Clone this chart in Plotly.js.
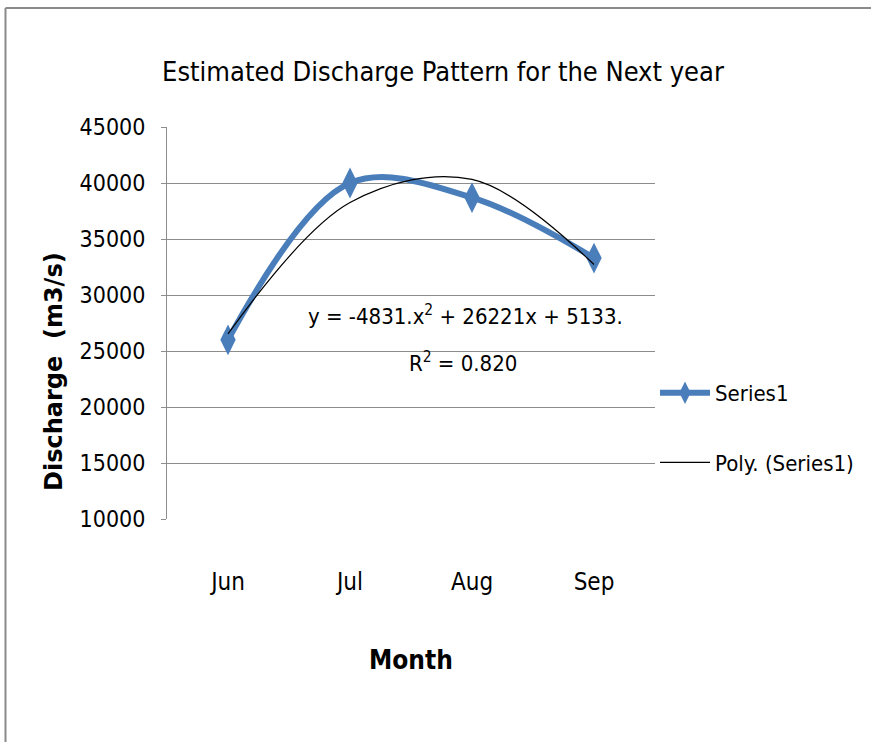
<!DOCTYPE html>
<html>
<head>
<meta charset="utf-8">
<script src="https://cdn.plot.ly/plotly-3.0.1.min.js"></script>
<style>html,body{margin:0;padding:0;background:#fff;}#chart{width:871px;height:742px;}</style>
</head>
<body>
<div id="chart"></div>
<script>
var months = ["Jun", "Jul", "Aug", "Sep"];
var discharge = [26000, 40000, 38700, 33300];
var polyTrend = [26523, 38251, 40317, 32721];
var yTicks = [10000, 15000, 20000, 25000, 30000, 35000, 40000, 45000];

var FONT = "'DejaVu Sans Condensed', 'Liberation Sans Narrow', 'Liberation Sans', sans-serif";

var traces = [
  {
    x: months, y: discharge, name: "Series1", type: "scatter", mode: "lines+markers",
    line: {color: "#4A7EBB", width: 6, shape: "spline", smoothing: 1},
    marker: {symbol: "diamond-tall", size: 22, color: "#4A7EBB"},
    legendgroup: "a"
  },
  {
    x: months, y: polyTrend, name: "Poly. (Series1)", type: "scatter", mode: "lines",
    line: {color: "#000000", width: 1.2, shape: "spline", smoothing: 1},
    legendgroup: "b"
  }
];

var layout = {
  width: 871, height: 742,
  margin: {l: 167, r: 216, t: 127, b: 223, autoexpand: false},
  paper_bgcolor: "#ffffff", plot_bgcolor: "#ffffff",
  font: {family: FONT, color: "#000000"},
  title: {
    text: "Estimated Discharge Pattern for the Next year",
    font: {family: FONT, size: 27, color: "#000000"},
    x: 443/871, xanchor: "center", xref: "container",
    y: 1 - 72/742, yanchor: "middle", yref: "container"
  },
  xaxis: {
    type: "category", categoryorder: "array", categoryarray: months,
    range: [-0.5, 3.5], showgrid: false, zeroline: false,
    showline: false, ticks: "", tickfont: {family: FONT, size: 24, color: "#000"},
    ticklabelstandoff: 46, fixedrange: true
  },
  yaxis: {
    range: [10000, 45000], tickvals: yTicks, ticktext: yTicks.map(String),
    showgrid: true, gridcolor: "#8C8C8C", gridwidth: 1,
    showline: true, linecolor: "#8C8C8C", linewidth: 1,
    ticks: "outside", ticklen: 5, tickcolor: "#8C8C8C",
    zeroline: false, tickfont: {family: FONT, size: 23, color: "#000"},
    ticklabelstandoff: 11, fixedrange: true
  },
  showlegend: true,
  legend: {
    x: 1.0, xanchor: "left", y: (519 - 372)/392, yanchor: "top",
    font: {family: FONT, size: 22, color: "#000"},
    traceorder: "grouped", tracegroupgap: 38, itemwidth: 50,
    bgcolor: "rgba(0,0,0,0)"
  },
  annotations: [
    {text: "y = -4831.x<sup>2</sup> + 26221x + 5133.", xref: "paper", yref: "paper",
     x: (465 - 167)/488, y: (519 - 315)/392, xanchor: "center", yanchor: "middle",
     showarrow: false, font: {family: FONT, size: 22, color: "#000"}},
    {text: "R<sup>2</sup> = 0.820", xref: "paper", yref: "paper",
     x: (463 - 167)/488, y: (519 - 362)/392, xanchor: "center", yanchor: "middle",
     showarrow: false, font: {family: FONT, size: 22, color: "#000"}},
    {text: "<b>Month</b>", xref: "paper", yref: "paper",
     x: (411 - 167)/488, y: (519 - 660)/392, xanchor: "center", yanchor: "middle",
     showarrow: false, font: {family: FONT, size: 26, color: "#000"}},
    {text: "<b>Discharge  (m3/s)</b>", xref: "paper", yref: "paper", textangle: -90,
     x: (54 - 167)/488, y: (519 - 372)/392, xanchor: "center", yanchor: "middle",
     showarrow: false, font: {family: "'DejaVu Sans', Verdana, sans-serif", size: 24, color: "#000"}}
  ],
  shapes: [
    {type: "line", xref: "paper", yref: "paper", x0: (5.5 - 167)/488, x1: (5.5 - 167)/488,
     y0: (519 - 8)/392, y1: (519 - 742)/392, line: {color: "#8A8A8A", width: 2}},
    {type: "line", xref: "paper", yref: "paper", x0: (5.5 - 167)/488, x1: (875 - 167)/488,
     y0: (519 - 8)/392, y1: (519 - 8)/392, line: {color: "#8A8A8A", width: 2}}
  ]
};

Plotly.newPlot("chart", traces, layout, {displayModeBar: false, staticPlot: true});
</script>
</body>
</html>
